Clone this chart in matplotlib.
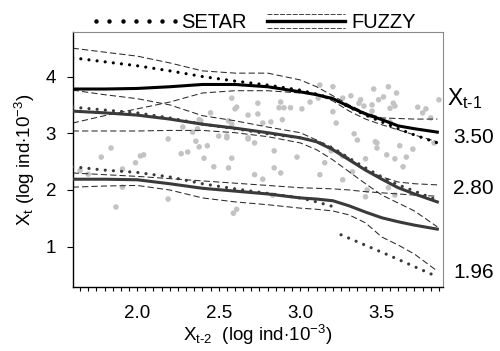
import numpy as np
import matplotlib.pyplot as plt
from matplotlib.lines import Line2D
from matplotlib.legend_handler import HandlerBase, HandlerLine2D
from matplotlib.ticker import MultipleLocator, FormatStrFormatter

plt.rcParams['font.family'] = ['Liberation Sans', 'DejaVu Sans']
plt.rcParams['mathtext.fontset'] = 'custom'
plt.rcParams['mathtext.rm'] = 'Liberation Sans'
plt.rcParams['mathtext.it'] = 'Liberation Sans'

# common x grid for the fitted curves (X_t-2)
x_grid = [1.605, 1.8, 2.0, 2.2, 2.4, 2.6, 2.8, 3.0, 3.1, 3.2, 3.3, 3.4, 3.5, 3.6, 3.7, 3.84]

# X_t-1 = 3.50
fuzzy_350 = [3.78, 3.78, 3.79, 3.82, 3.86, 3.86, 3.82, 3.73, 3.68, 3.61, 3.47, 3.34, 3.24, 3.13, 3.08, 3.02]
fuzzy_350_hi = [4.50, 4.43, 4.36, 4.24, 4.10, 4.06, 4.06, 3.94, 3.82, 3.66, 3.50, 3.36, 3.27, 3.26, 3.25, 3.25]
fuzzy_350_lo = [3.18, 3.31, 3.43, 3.55, 3.71, 3.75, 3.75, 3.71, 3.68, 3.57, 3.39, 3.25, 3.15, 3.06, 2.97, 2.85]
setar_350 = [4.33, 4.26, 4.19, 4.10, 4.00, 3.92, 3.85, 3.76, 3.69, 3.61, 3.46, 3.32, 3.20, 3.08, 2.97, 2.83]

# X_t-1 = 2.80
fuzzy_280 = [3.39, 3.36, 3.32, 3.25, 3.16, 3.09, 3.01, 2.92, 2.85, 2.71, 2.53, 2.35, 2.19, 2.04, 1.93, 1.79]
fuzzy_280_hi = [3.76, 3.68, 3.61, 3.50, 3.31, 3.22, 3.11, 3.01, 2.88, 2.74, 2.56, 2.35, 2.23, 2.14, 2.11, 2.09]
fuzzy_280_lo = [3.04, 3.04, 3.04, 3.05, 3.05, 3.01, 2.94, 2.83, 2.71, 2.53, 2.32, 2.11, 1.91, 1.77, 1.63, 1.35]
setar_280 = [3.46, 3.41, 3.36, 3.27, 3.16, 3.08, 2.99, 2.92, 2.86, 2.74, 2.56, 2.39, 2.23, 2.09, 1.98, 1.82]

# X_t-1 = 1.96
fuzzy_196 = [2.19, 2.19, 2.18, 2.11, 2.03, 1.98, 1.93, 1.86, 1.84, 1.81, 1.72, 1.61, 1.51, 1.44, 1.38, 1.31]
fuzzy_196_hi = [2.30, 2.27, 2.24, 2.20, 2.16, 2.12, 2.08, 2.04, 2.03, 2.02, 2.00, 1.97, 1.95, 1.93, 1.91, 1.89]
fuzzy_196_lo = [2.05, 2.07, 2.08, 2.00, 1.86, 1.79, 1.74, 1.68, 1.66, 1.63, 1.56, 1.42, 1.17, 1.03, 0.87, 0.57]
setar_196_x1 = [1.605, 1.8, 2.0, 2.2, 2.4, 2.6, 2.8, 3.0, 3.1, 3.21]
setar_196_y1 = [2.41, 2.35, 2.31, 2.23, 2.11, 2.02, 1.94, 1.86, 1.79, 1.70]
setar_196_x2 = [3.25, 3.55, 3.84]
setar_196_y2 = [1.21, 0.84, 0.47]

# observations
obs_x = [1.78, 1.84, 1.87, 1.91, 1.91, 1.99, 2.02, 2.04, 2.19, 2.19,
         2.27, 2.31, 2.34, 2.37, 2.38, 2.41, 2.43, 2.45, 2.47, 2.55,
         2.56, 2.58, 2.59, 2.61, 2.60, 2.61, 2.68, 2.68, 1.65, 1.70,
         2.28, 2.39, 2.36, 2.58, 2.74, 2.74, 2.87, 2.90, 2.94, 2.88,
         3.01, 3.12, 3.06, 3.11, 3.20, 3.20, 2.56, 2.58, 2.77, 2.82,
         2.89, 2.38, 2.50, 2.55, 2.68, 2.72, 2.84, 3.45, 3.54, 3.59,
         3.51, 3.48, 3.31, 3.36, 3.39, 3.44, 3.44, 3.58, 3.85, 3.77,
         3.80, 3.55, 3.43, 3.22, 3.33, 3.35, 3.46, 3.47, 3.47, 3.40,
         3.53, 3.58, 3.61, 3.65, 3.69, 3.63, 2.98, 3.15, 3.26, 3.26,
         3.19, 3.82, 3.40, 3.41, 3.54, 3.58, 2.72, 2.77, 2.84, 2.88,
         2.83, 3.12, 3.32, 3.72, 3.75, 3.57, 3.37, 3.26, 3.55]
obs_y = [2.58, 2.74, 1.70, 2.37, 2.05, 2.48, 2.60, 2.62, 2.90, 1.84,
         2.64, 2.67, 3.02, 3.08, 2.76, 2.56, 2.78, 3.36, 2.41, 2.95,
         2.39, 2.56, 1.59, 1.66, 3.43, 3.46, 3.32, 2.92, 2.34, 2.28,
         3.11, 3.22, 2.86, 3.62, 3.53, 3.34, 3.45, 3.45, 3.45, 3.55,
         3.43, 3.85, 3.55, 3.62, 3.82, 3.38, 3.22, 3.16, 3.18, 3.20,
         3.24, 3.24, 2.95, 2.92, 2.90, 2.83, 2.69, 3.78, 3.82, 3.71,
         3.64, 3.59, 3.66, 3.53, 3.48, 3.50, 3.39, 3.48, 3.59, 3.43,
         3.27, 3.20, 3.31, 3.18, 2.99, 2.88, 2.85, 2.83, 2.74, 2.55,
         2.62, 2.55, 2.78, 2.58, 2.72, 2.41, 2.58, 2.48, 2.60, 2.18,
         2.69, 2.83, 1.88, 2.00, 2.04, 1.91, 2.27, 2.19, 2.39, 2.30,
         1.91, 2.27, 2.32, 3.46, 3.36, 3.53, 3.59, 3.62, 3.44]

xt1_labels = ['3.50', '2.80', '1.96']

DARK = '#3a3a3a'
DASH = '#2a2a2a'


class FuzzyHandler(HandlerBase):
    def create_artists(self, legend, orig_handle, xdescent, ydescent,
                       width, height, fontsize, trans):
        yc = (height - ydescent) / 2
        x0, x1 = -xdescent, width - xdescent
        arts = [Line2D([x0, x1], [yc, yc], color='k', lw=2.4, transform=trans)]
        for dy in (0.5 * height, -0.5 * height):
            arts.append(Line2D([x0, x1], [yc + dy] * 2, color='#444444', lw=0.7,
                               dashes=(5, 1.5), transform=trans))
        return arts


fig = plt.figure(figsize=(5, 3.51), dpi=100)
ax = fig.add_axes([0.1454, 0.1832, 0.74, 0.7248])

ax.scatter(obs_x, obs_y, s=16, color='#c3c3c3', edgecolors='none', zorder=1)

def dotted(x, y, color):
    ax.plot(x, y, color=color, lw=2.3, dashes=(0.01, 2.55),
            dash_capstyle='round', zorder=3)

def band(x, y):
    ax.plot(x, y, color=DASH, lw=0.75, dashes=(6, 3), zorder=2)

for hi, lo in [(fuzzy_350_hi, fuzzy_350_lo), (fuzzy_280_hi, fuzzy_280_lo),
               (fuzzy_196_hi, fuzzy_196_lo)]:
    band(x_grid, hi)
    band(x_grid, lo)

ax.plot(x_grid, fuzzy_350, color='k', lw=2.2, zorder=4)
ax.plot(x_grid, fuzzy_280, color=DARK, lw=2.2, zorder=4)
ax.plot(x_grid, fuzzy_196, color=DARK, lw=2.2, zorder=4)

dotted(x_grid, setar_350, 'k')
dotted(x_grid, setar_280, DARK)
dotted(setar_196_x1, setar_196_y1, DARK)
dotted(setar_196_x2, setar_196_y2, DARK)

ax.set_xlim(1.605, 3.873)
ax.set_ylim(0.295, 4.78)
ax.set_xticks([2.0, 2.5, 3.0, 3.5])
ax.xaxis.set_major_formatter(FormatStrFormatter('%.1f'))
ax.xaxis.set_minor_locator(MultipleLocator(0.05))
ax.set_yticks([1, 2, 3, 4])

for s in ['top', 'right']:
    ax.spines[s].set_color('#8a8a8a')
    ax.spines[s].set_linewidth(0.8)
for s in ['left', 'bottom']:
    ax.spines[s].set_color('k')
    ax.spines[s].set_linewidth(1.0)

ax.tick_params(axis='x', which='both', direction='out', length=3, width=0.8,
               labelsize=13.5, pad=10)
ax.tick_params(axis='y', direction='out', length=4, width=0.8, labelsize=13.5, pad=8)

ax.set_xlabel(r'$\mathregular{X_{t\text{-}2}}$  (log ind$\cdot$10$^{\mathregular{-3}}$)',
              fontsize=13.5, labelpad=1)
ax.set_ylabel(r'$\mathregular{X_t}$ (log ind$\cdot$10$^{\mathregular{-3}}$)',
              fontsize=13.5, labelpad=6)

# right-hand annotations for X_t-1 levels
fig.text(0.894, 0.718, r'$\mathregular{X_{t\text{-}1}}$', fontsize=16.5, va='center', ha='left')
for lab, fy in zip(xt1_labels, [0.607, 0.464, 0.225]):
    fig.text(0.907, fy, lab, fontsize=15, va='center', ha='left')

setar_h = Line2D([], [], color='k', ls='none', marker='o', markersize=3.2,
                 markeredgewidth=0)
fuzzy_h = Line2D([], [], color='k')
fig.legend([setar_h, fuzzy_h], ['SETAR', 'FUZZY'],
           handler_map={fuzzy_h: FuzzyHandler(),
                        setar_h: HandlerLine2D(marker_pad=0, numpoints=7)},
           loc='center', bbox_to_anchor=(0.512, 0.937), ncol=2, frameon=False,
           fontsize=14.5, handlelength=3.9, handletextpad=0.3, columnspacing=1.0,
           borderpad=0, borderaxespad=0)

fig.savefig('out.png', dpi=100)
